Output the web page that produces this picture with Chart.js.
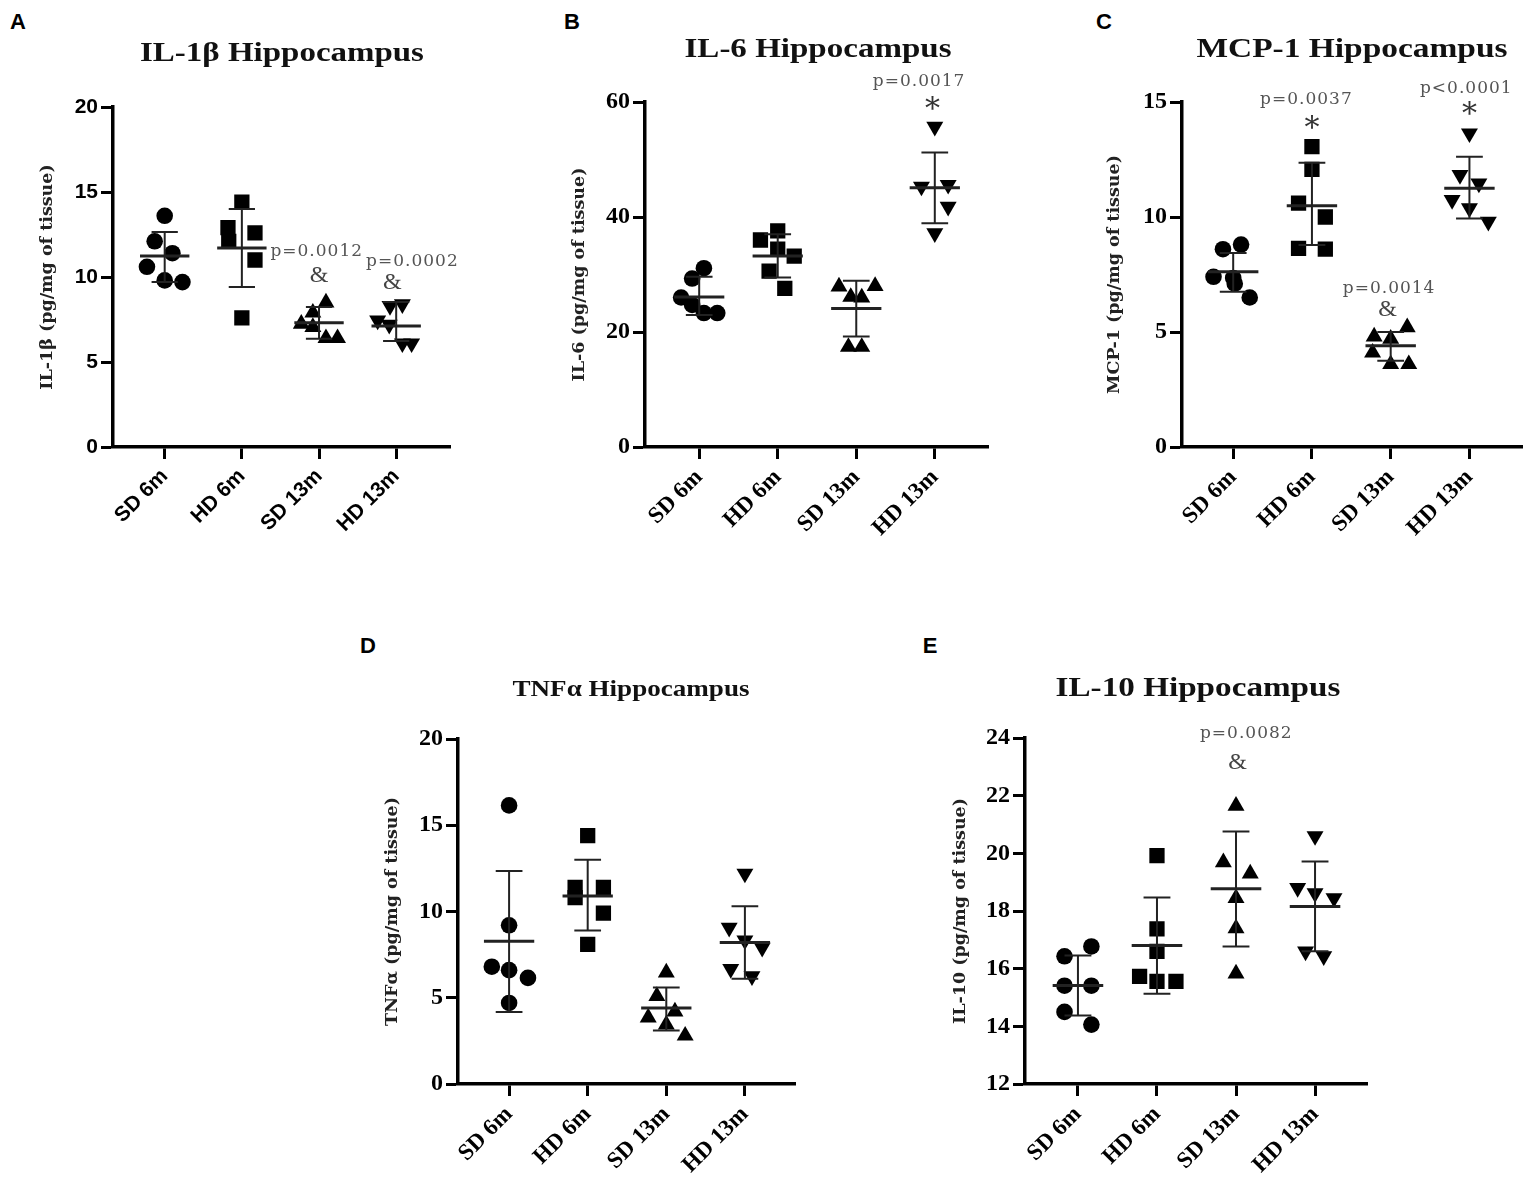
<!DOCTYPE html>
<html><head><meta charset="utf-8">
<script src="https://cdn.jsdelivr.net/npm/chart.js@4.4.0/dist/chart.umd.min.js"></script>
<style>
html,body{margin:0;padding:0;background:#fff}
body{width:1535px;height:1195px;position:relative;overflow:hidden}
canvas{position:absolute}
.lbl{position:absolute;font:bold 22px "Liberation Sans",Arial,sans-serif;color:#000;transform:translate(-50%,-50%)}
.ttl{position:absolute;font:bold 27px "Liberation Serif","Times New Roman",serif;color:#111;white-space:nowrap;transform:translate(-50%,-50%)}
</style></head><body>
<canvas id="cA"></canvas><canvas id="cB"></canvas><canvas id="cC"></canvas><canvas id="cD"></canvas><canvas id="cE"></canvas>
<div class="lbl" style="left:18px;top:22px">A</div>
<div class="lbl" style="left:572px;top:22px">B</div>
<div class="lbl" style="left:1104px;top:22px">C</div>
<div class="lbl" style="left:368px;top:646px">D</div>
<div class="lbl" style="left:930px;top:646px">E</div>
<div class="ttl" data-w="284" style="left:282px;top:52px">IL-1β Hippocampus</div>
<div class="ttl" data-w="267" style="left:818px;top:48px">IL-6 Hippocampus</div>
<div class="ttl" data-w="311" style="left:1352px;top:48px">MCP-1 Hippocampus</div>
<div class="ttl" data-w="237" style="left:631px;top:688px;font-size:24px">TNFα Hippocampus</div>
<div class="ttl" data-w="285" style="left:1198px;top:687px">IL-10 Hippocampus</div>
<script>
// ---------- DATA ----------
const categories = ["SD 6m", "HD 6m", "SD 13m", "HD 13m"];

// A: IL-1beta
const il1bPoints = [
  [13.6, 12.1, 11.4, 10.6, 9.8, 9.7],
  [14.4, 12.9, 12.6, 12.1, 11.0, 7.6],
  [8.5, 7.9, 7.25, 7.05, 6.4, 6.4],
  [8.4, 8.3, 7.45, 7.2, 6.1, 6.1]
];
const il1bJitter = [
  [0, -0.13, 0.1, -0.23, 0, 0.23],
  [0, -0.18, 0.17, -0.17, 0.17, 0],
  [0.09, -0.08, -0.23, -0.08, 0.09, 0.24],
  [0.08, -0.08, -0.24, -0.09, 0.08, 0.2]
];
const il1bMean = [11.24, 11.7, 7.31, 7.12];
const il1bUpper = [12.65, 14.0, 8.24, 8.53];
const il1bLower = [9.7, 9.41, 6.37, 6.24];
const il1bTicks = [0, 5, 10, 15, 20];
const il1bNotes = [
  {x: 1.97, y: 11.47, text: "p=0.0012"}, {x: 2.0, y: 10.06, text: "&"},
  {x: 3.21, y: 10.88, text: "p=0.0002"}, {x: 2.95, y: 9.65, text: "&"}
];

// B: IL-6
const il6Points = [
  [31.1, 29.3, 26.0, 24.7, 23.3, 23.3],
  [37.6, 36.0, 34.4, 33.2, 30.6, 27.6],
  [27.9, 28.0, 26.1, 26.0, 17.4, 17.4],
  [55.7, 45.3, 45.6, 41.8, 37.2]
];
const il6Jitter = [
  [0.06, -0.09, -0.23, -0.09, 0.06, 0.23],
  [0, -0.22, 0, 0.21, -0.11, 0.09],
  [-0.22, 0.24, -0.07, 0.07, -0.1, 0.07],
  [0, -0.17, 0.17, 0.17, 0]
];
const il6Mean = [26.1, 33.2, 24.1, 45.1];
const il6Upper = [29.6, 37.0, 28.9, 51.2];
const il6Lower = [22.96, 29.5, 19.2, 38.9];
const il6Ticks = [0, 20, 40, 60];
const il6Notes = [
  {x: 2.8, y: 63.5, text: "p=0.0017"}, {x: 2.97, y: 59.8, text: "*"}
];

// C: MCP-1
const mcp1Points = [
  [8.6, 8.8, 7.4, 7.35, 7.1, 6.5],
  [13.06, 12.07, 10.6, 10.0, 8.64, 8.6],
  [4.8, 5.2, 4.7, 4.1, 3.6, 3.6],
  [13.64, 11.83, 11.46, 10.74, 10.38, 9.8]
];
const mcp1Jitter = [
  [-0.13, 0.1, -0.25, 0, 0.02, 0.21],
  [0, 0, -0.17, 0.17, -0.17, 0.17],
  [-0.21, 0.21, 0, -0.23, 0, 0.23],
  [0, -0.12, 0.12, -0.22, 0, 0.24]
];
const mcp1Mean = [7.62, 10.49, 4.4, 11.25];
const mcp1Upper = [8.43, 12.36, 5.0, 12.62];
const mcp1Lower = [6.75, 8.78, 3.75, 9.94];
const mcp1Ticks = [0, 5, 10, 15];
const mcp1Notes = [
  {x: 0.93, y: 15.09, text: "p=0.0037"}, {x: 1.0, y: 14.14, text: "*"},
  {x: 2.96, y: 15.57, text: "p<0.0001"}, {x: 3.0, y: 14.74, text: "*"},
  {x: 1.98, y: 6.9, text: "p=0.0014"}, {x: 1.96, y: 5.96, text: "&"}
];

// D: TNF-alpha
const tnfPoints = [
  [16.15, 9.2, 6.8, 6.6, 6.15, 4.7],
  [14.4, 11.4, 10.8, 11.4, 9.9, 8.1],
  [6.46, 5.1, 4.2, 3.85, 3.44, 2.8],
  [12.2, 9.06, 8.33, 7.9, 6.67, 6.25]
];
const tnfJitter = [
  [0, 0, -0.22, 0, 0.24, 0],
  [0, -0.16, -0.16, 0.2, 0.2, 0],
  [0, -0.12, 0.11, -0.23, 0, 0.24],
  [0, -0.2, 0, 0.22, -0.18, 0.09]
];
const tnfMean = [8.27, 10.9, 4.4, 8.2];
const tnfUpper = [12.35, 13.0, 5.6, 10.3];
const tnfLower = [4.17, 8.9, 3.1, 6.1];
const tnfTicks = [0, 5, 10, 15, 20];
const tnfNotes = [];

// E: IL-10
const il10Points = [
  [16.43, 16.77, 15.41, 15.41, 14.5, 14.06],
  [19.92, 17.38, 16.6, 15.73, 15.56, 15.56],
  [21.65, 19.69, 19.3, 18.45, 17.4, 15.83],
  [20.6, 18.8, 18.62, 18.45, 16.6, 16.43]
];
const il10Jitter = [
  [-0.17, 0.17, -0.17, 0.17, -0.17, 0.17],
  [0, 0, 0, -0.22, 0, 0.24],
  [0, -0.16, 0.18, 0, 0, 0],
  [0, -0.22, 0, 0.24, -0.12, 0.11]
];
const il10Mean = [15.42, 16.8, 18.77, 18.16];
const il10Upper = [16.46, 18.47, 20.76, 19.72];
const il10Lower = [14.38, 15.13, 16.77, 16.6];
const il10Ticks = [12, 14, 16, 18, 20, 22, 24];
const il10Notes = [
  {x: 2.13, y: 24.17, text: "p=0.0082"}, {x: 2.02, y: 23.13, text: "&"}
];

// ---------- STYLE / LAYOUT ----------
const SANS = '"Liberation Sans", Arial, sans-serif';
const SERIF = '"Liberation Serif", "Times New Roman", serif';
const TSERIF = '"DejaVu Serif", serif';
const markerStyles = [
  {pointStyle: 'circle', radius: 8.3, rotation: 0},
  {pointStyle: 'rect', radius: 10.8, rotation: 0},
  {pointStyle: 'triangle', radius: 9.8, rotation: 0},
  {pointStyle: 'triangle', radius: 9.8, rotation: 180}
];

const sdPlugin = {
  id: 'sdbars',
  afterDatasetsDraw(chart, args, o) {
    const {ctx} = chart; const x = chart.scales.x, y = chart.scales.y;
    ctx.save();
    ctx.strokeStyle = '#222';
    o.mean.forEach((m, i) => {
      const cx = x.getPixelForValue(i);
      const mh = x.getPixelForValue(i + 0.32) - cx;
      const ch = x.getPixelForValue(i + 0.17) - cx;
      const yt = y.getPixelForValue(o.upper[i]);
      const yb = y.getPixelForValue(o.lower[i]);
      const ym = y.getPixelForValue(m);
      ctx.lineWidth = 2;
      ctx.beginPath();
      ctx.moveTo(cx, yt); ctx.lineTo(cx, yb);
      ctx.moveTo(cx - ch, yt); ctx.lineTo(cx + ch, yt);
      ctx.moveTo(cx - ch, yb); ctx.lineTo(cx + ch, yb);
      ctx.stroke();
      ctx.lineWidth = 3;
      ctx.beginPath();
      ctx.moveTo(cx - mh, ym); ctx.lineTo(cx + mh, ym);
      ctx.stroke();
    });
    ctx.textAlign = 'center';
    ctx.textBaseline = 'middle';
    o.notes.forEach(n => {
      const px = x.getPixelForValue(n.x), py = y.getPixelForValue(n.y);
      if (n.text === '*') {
        ctx.fillStyle = '#333';
        ctx.font = '30px "DejaVu Serif", serif';
        ctx.fillText('*', px, py + 7);
      } else if (n.text === '&') {
        ctx.fillStyle = '#444';
        ctx.font = '24px "Liberation Serif", serif';
        ctx.fillText('&', px, py);
      } else {
        ctx.fillStyle = '#555';
        ctx.font = '17px "DejaVu Serif", serif';
        try { ctx.letterSpacing = '1px'; } catch (e) {}
        ctx.fillText(n.text, px, py);
        try { ctx.letterSpacing = '0px'; } catch (e) {}
      }
    });
    ctx.restore();
  }
};

function makePanel(id, pos, d) {
  const cv = document.getElementById(id);
  cv.style.left = pos.left + 'px'; cv.style.top = pos.top + 'px';
  cv.style.width = pos.w + 'px'; cv.style.height = pos.h + 'px';
  cv.width = pos.w; cv.height = pos.h;
  const datasets = d.points.map((arr, i) => ({
    data: arr.map((v, j) => ({x: i + d.jitter[i][j], y: v})),
    pointStyle: markerStyles[i].pointStyle,
    pointRadius: markerStyles[i].radius,
    pointRotation: markerStyles[i].rotation,
    backgroundColor: '#000', borderColor: '#000', borderWidth: 0,
    showLine: false
  }));
  const tickFont = {family: pos.tickFamily, weight: 'bold', size: pos.tickSize};
  const gridCfg = {drawOnChartArea: false, drawTicks: true, color: '#000', tickColor: '#000', tickLength: 12, tickWidth: 3};
  new Chart(cv, {
    type: 'scatter',
    data: {datasets},
    options: {
      responsive: false, animation: false, devicePixelRatio: 1,
      layout: {padding: {top: pos.padTop, right: 6, left: 0, bottom: 0}},
      plugins: {legend: {display: false}, tooltip: {enabled: false}, sdbars: {mean: d.mean, upper: d.upper, lower: d.lower, notes: d.notes}},
      scales: {
        x: {
          type: 'linear', min: pos.xmin, max: pos.xmax,
          afterBuildTicks: s => { s.ticks = categories.map((c, i) => ({value: i})); },
          afterFit: s => { s.height = pos.xH; },
          ticks: {autoSkip: false, minRotation: 45, maxRotation: 45, padding: 5, color: '#000',
            font: {family: pos.xFamily, weight: 'bold', size: pos.xSize},
            callback: v => categories[v]},
          grid: gridCfg,
          border: {display: true, color: '#000', width: 3.5}
        },
        y: {
          min: d.ticks[0], max: d.ticks[d.ticks.length - 1],
          afterBuildTicks: s => { s.ticks = d.ticks.map(v => ({value: v})); },
          afterFit: s => { s.width = pos.yW; },
          ticks: {color: '#000', padding: 3, font: tickFont},
          grid: gridCfg,
          border: {display: true, color: '#000', width: 3.5},
          title: {display: true, text: d.title, color: '#222', padding: {top: 4, bottom: 0},
            font: {family: TSERIF, weight: 'bold', size: 17.5}}
        }
      }
    },
    plugins: [sdPlugin]
  });
}

const PAD = 45, XH = 110;
makePanel('cA', {left: 33, top: 107 - PAD, w: 428, h: PAD + 340 + XH, padTop: PAD, xH: XH, yW: 80, xmin: -0.67, xmax: 3.7,
  tickFamily: SANS, tickSize: 21, xFamily: SANS, xSize: 21},
  {points: il1bPoints, jitter: il1bJitter, mean: il1bMean, upper: il1bUpper, lower: il1bLower, ticks: il1bTicks, notes: il1bNotes, title: 'IL-1β (pg/mg of tissue)'});
makePanel('cB', {left: 565, top: 102 - PAD, w: 434, h: PAD + 345 + XH, padTop: PAD, xH: XH, yW: 80, xmin: -0.69, xmax: 3.68,
  tickFamily: SERIF, tickSize: 24, xFamily: SERIF, xSize: 23},
  {points: il6Points, jitter: il6Jitter, mean: il6Mean, upper: il6Upper, lower: il6Lower, ticks: il6Ticks, notes: il6Notes, title: 'IL-6 (pg/mg of tissue)'});
makePanel('cC', {left: 1100, top: 102 - PAD, w: 433, h: PAD + 345 + XH, padTop: PAD, xH: XH, yW: 82, xmin: -0.65, xmax: 3.67,
  tickFamily: SERIF, tickSize: 24, xFamily: SERIF, xSize: 23},
  {points: mcp1Points, jitter: mcp1Jitter, mean: mcp1Mean, upper: mcp1Upper, lower: mcp1Lower, ticks: mcp1Ticks, notes: mcp1Notes, title: 'MCP-1 (pg/mg of tissue)'});
makePanel('cD', {left: 378, top: 739 - PAD, w: 428, h: PAD + 345 + XH, padTop: PAD, xH: XH, yW: 80, xmin: -0.65, xmax: 3.64,
  tickFamily: SERIF, tickSize: 24, xFamily: SERIF, xSize: 23},
  {points: tnfPoints, jitter: tnfJitter, mean: tnfMean, upper: tnfUpper, lower: tnfLower, ticks: tnfTicks, notes: tnfNotes, title: 'TNFα (pg/mg of tissue)'});
makePanel('cE', {left: 946, top: 738 - PAD, w: 432, h: PAD + 346 + XH, padTop: PAD, xH: XH, yW: 79, xmin: -0.67, xmax: 3.66,
  tickFamily: SERIF, tickSize: 24, xFamily: SERIF, xSize: 23},
  {points: il10Points, jitter: il10Jitter, mean: il10Mean, upper: il10Upper, lower: il10Lower, ticks: il10Ticks, notes: il10Notes, title: 'IL-10 (pg/mg of tissue)'});

document.querySelectorAll('.ttl').forEach(el => {
  const w = el.getBoundingClientRect().width;
  const k = (+el.dataset.w) / w;
  el.style.transform = 'translate(-50%,-50%) scaleX(' + k.toFixed(3) + ')';
});
</script>
</body></html>
